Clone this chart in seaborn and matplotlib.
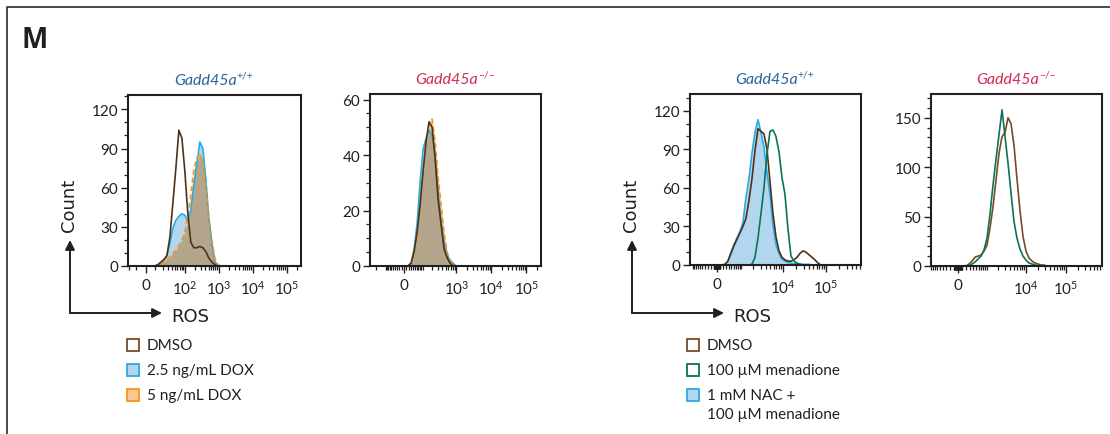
import matplotlib
matplotlib.use('Agg')
import matplotlib.pyplot as plt
import seaborn as sns
import numpy as np
from matplotlib.patches import Rectangle, FancyArrowPatch
from matplotlib.lines import Line2D
from matplotlib.ticker import FixedLocator, FixedFormatter, MultipleLocator
from matplotlib.transforms import offset_copy

W, H = 1110, 435

# ---- DOX, Gadd45a+/+ (ROS bin centres, counts per sample)
dox_wt_bins = [6.0, 9.3, 13, 17.3, 22.3, 28.2, 35.1, 43.6, 54, 66.5, 81.8, 100, 123,
               151, 185, 227, 278, 341, 418, 513, 628, 769, 943, 1155, 1415, 1734]
dox_wt_dmso = [0, 0, 1, 3, 5, 8, 22, 48, 75, 104, 98, 73, 40, 18, 14, 14, 15, 14, 11, 6,
               3, 1, 0, 0, 0, 0]
dox_wt_25 = [0, 0, 1, 2, 4, 8, 17, 29, 35, 38, 40, 39, 34, 42, 62, 78, 95, 90, 66, 36,
             17, 3, 0, 0, 0, 0]
dox_wt_5 = [0, 0, 1, 2, 3, 5, 7, 10, 12, 16, 20, 26, 38, 55, 74, 83, 86, 80, 60, 37,
            20, 6, 1, 0, 0, 0]

# ---- DOX, Gadd45a-/-
dox_ko_bins = [17.3, 31, 45.9, 62.6, 82, 104, 131, 162, 200, 246, 301, 368, 449, 549,
               669, 815, 993, 1210, 1475]
dox_ko_dmso = [0, 1, 5, 12, 22, 34, 45, 52, 50, 39, 24, 15, 6, 3, 1, 0, 0, 0, 0]
dox_ko_25 = [0, 1, 6, 15, 30, 42, 46, 49, 47, 40, 27, 16, 9, 4, 2, 1, 0, 0, 0]
dox_ko_5 = [0, 1, 4, 11, 22, 33, 44, 51, 53, 45, 32, 22, 12, 5, 2, 1, 0, 0, 0]

# ---- menadione, Gadd45a+/+
men_wt_bins = [158, 258, 364, 480, 608, 752, 915, 1099, 1310, 1565, 1855, 2195, 2590,
               3050, 3585, 4220, 4960, 5835, 6845, 8040, 9445, 11090, 13020, 15290,
               17960, 21090, 24760, 29070, 34120, 40050, 47020, 55210, 64820, 76100]
men_wt_dmso = [0, 0.5, 3, 9, 15, 20, 25, 30, 36, 50, 67, 89, 106, 104, 102, 90, 65, 40,
               22, 11, 6, 4, 3, 3, 4, 6, 9, 11, 10, 8, 6, 4, 1.5, 0]
men_wt_men = [0, 0, 0, 0, 0, 0, 0, 0, 0, 0, 0.5, 6, 21, 40, 60, 86, 104, 105, 100, 88,
              68, 55, 28, 7, 3, 1.5, 0.5, 0, 0, 0, 0, 0, 0, 0]
men_wt_nac = [0, 0.5, 3, 10, 16, 21, 26, 33, 52, 67, 87, 103, 113, 103, 92, 72, 55, 31,
              16, 9, 4.5, 3, 2, 1.5, 1, 1, 1, 0.5, 0.5, 0.5, 0, 0, 0, 0]

# ---- menadione, Gadd45a-/-
men_ko_bins = [117, 191, 271, 359, 458, 570, 699, 846, 1020, 1225, 1472, 1757, 2097,
               2502, 2977, 3541, 4207, 5000, 5947, 7066, 8400, 9985, 11870, 14115,
               16760, 19890, 23620, 28110, 33400]
men_ko_dmso = [0, 0, 2, 5, 9, 10, 11, 15, 21, 38, 60, 87, 114, 131, 135, 150, 144, 122,
               88, 56, 30, 15, 8, 5, 3, 2, 1, 1, 0]
men_ko_men = [0, 0, 0.5, 2, 4, 7, 10, 16, 28, 52, 82, 108, 133, 158, 131, 104, 74, 45,
              28, 17, 10, 6, 3, 2, 1, 0.5, 0, 0, 0]

dox_labels = ['DMSO', '2.5 ng/mL DOX', '5 ng/mL DOX']
men_labels = ['DMSO', '100 \u00b5M menadione', '1 mM NAC +\n100 \u00b5M menadione']

BROWN = '#4f3118'
BROWN2 = '#7a4a24'
BLUE = '#29abe2'
BLUE_FILL = '#b2d6f0'
ORANGE = '#f7941d'
ORANGE_FILL = '#f9c894'
TAN = '#b3a68c'
GREEN = '#0b7356'
INK = '#231f20'
WT_COL = '#2b6399'
KO_COL = '#d42a4f'

sns.set_style('ticks')
plt.rcParams['font.family'] = ['Lato', 'DejaVu Sans']
plt.rcParams['mathtext.fontset'] = 'custom'
plt.rcParams['mathtext.rm'] = 'Lato'
plt.rcParams['mathtext.it'] = 'Lato:italic'
plt.rcParams['mathtext.bf'] = 'Lato:bold'

fig = plt.figure(figsize=(W / 100, H / 100), dpi=100)


def px_rect(l, t, r, b):
    return [l / W, 1 - b / H, (r - l) / W, (b - t) / H]


def genotype_title(ax, sup, col):
    # italic gene name plus an upright superscript, centred over the panel
    xc = 0.5 - 9 / (ax.get_position().width * W)
    t = ax.text(xc, 1.0, 'Gadd45a', style='italic', fontsize=11.5, color=col,
                transform=offset_copy(ax.transAxes, fig=fig, x=0, y=8, units='dots'),
                ha='center', va='bottom')
    ax.annotate(sup, xy=(1, 1), xycoords=t, xytext=(0, 2), textcoords='offset points',
                fontsize=7.5, color=col, ha='left', va='top')


def setup_axis(ax, lw_, xlim, xmajor, xlabels, ymax, ymajor, yminor):
    ax.set_xscale('asinh', linear_width=lw_)
    ax.set_xlim(*xlim)
    ax.set_ylim(0, ymax)
    ax.xaxis.set_major_locator(FixedLocator(xmajor))
    ax.xaxis.set_major_formatter(FixedFormatter(xlabels))
    minor = []
    for k in range(1, 6):
        for m in range(1, 10):
            for s in (1, -1):
                v = s * m * 10 ** k
                if xlim[0] < v < xlim[1]:
                    minor.append(v)
    ax.xaxis.set_minor_locator(FixedLocator(minor))
    ax.set_yticks(ymajor)
    ax.yaxis.set_minor_locator(MultipleLocator(yminor))
    for sp in ax.spines.values():
        sp.set_visible(True)
        sp.set_linewidth(1.5)
        sp.set_color(INK)
    ax.tick_params(which='major', length=5, width=1, color=INK, labelsize=11,
                   labelcolor=INK, pad=2)
    ax.tick_params(axis='x', which='major', pad=4)
    ax.tick_params(which='minor', length=3, width=0.9, color=INK)
    ax.set_xlabel('')
    ax.set_ylabel('')


def line(ax, x, y, color, ls='-'):
    sns.lineplot(x=x, y=y, ax=ax, color=color, linewidth=1.2, estimator=None,
                 sort=False, legend=False, linestyle=ls)


xl_dox1 = ['0', r'$10^{2}$', r'$10^{3}$', r'$10^{4}$', r'$10^{5}$']
xl_dox2 = ['0', r'$10^{3}$', r'$10^{4}$', r'$10^{5}$']
xl_men = ['0', r'$10^{4}$', r'$10^{5}$']

# panel 1
ax1 = fig.add_axes(px_rect(128, 96, 301, 267))
b = np.array(dox_wt_bins)
c25, c5 = np.array(dox_wt_25), np.array(dox_wt_5)
ax1.fill_between(b, 0, c25, color=BLUE_FILL, lw=0)
ax1.fill_between(b, 0, c5, color=ORANGE_FILL, lw=0)
ax1.fill_between(b, 0, np.minimum(c25, c5), color=TAN, lw=0)
line(ax1, b, c25, BLUE)
line(ax1, b, c5, ORANGE, (0, (3, 2)))
line(ax1, b, dox_wt_dmso, BROWN)
setup_axis(ax1, 14.4, (-22, 262144), [0, 1e2, 1e3, 1e4, 1e5], xl_dox1,
           131, [0, 30, 60, 90, 120], 10)
genotype_title(ax1, '+/+', WT_COL)

# panel 2
ax2 = fig.add_axes(px_rect(370, 95, 541, 267))
b = np.array(dox_ko_bins)
c25, c5 = np.array(dox_ko_25), np.array(dox_ko_5)
ax2.fill_between(b, 0, c25, color=BLUE_FILL, lw=0)
ax2.fill_between(b, 0, c5, color=ORANGE_FILL, lw=0)
ax2.fill_between(b, 0, np.minimum(c25, c5), color=TAN, lw=0)
line(ax2, b, c25, BLUE)
line(ax2, b, c5, ORANGE, (0, (3, 2)))
line(ax2, b, dox_ko_dmso, BROWN)
setup_axis(ax2, 65, (-300, 262144), [0, 1e3, 1e4, 1e5], xl_dox2,
           62, [0, 20, 40, 60], 5)
genotype_title(ax2, '\u2013/\u2013', KO_COL)

# panel 3
ax3 = fig.add_axes(px_rect(690, 95, 861, 266))
b = np.array(men_wt_bins)
ax3.fill_between(b, 0, men_wt_nac, color=BLUE_FILL, lw=0)
line(ax3, b, men_wt_nac, BLUE)
line(ax3, b, men_wt_dmso, BROWN)
line(ax3, b, men_wt_men, GREEN)
setup_axis(ax3, 585, (-1166, 646000), [0, 1e4, 1e5], xl_men,
           133, [0, 30, 60, 90, 120], 10)
genotype_title(ax3, '+/+', WT_COL)

# panel 4
ax4 = fig.add_axes(px_rect(931, 95, 1102, 267))
b = np.array(men_ko_bins)
line(ax4, b, men_ko_dmso, BROWN2)
line(ax4, b, men_ko_men, GREEN)
setup_axis(ax4, 401, (-906, 789000), [0, 1e4, 1e5], xl_men,
           174, [0, 50, 100, 150], 10)
genotype_title(ax4, '\u2013/\u2013', KO_COL)


def fpt(x, y):
    return (x / W, 1 - y / H)


# outer frame (top and left edges)
fig.add_artist(Line2D([7 / W, 7 / W, 1.0], [0.0, 1 - 8 / H, 1 - 8 / H],
                      transform=fig.transFigure, color='#3a3a3a', lw=1.3))
fig.text(*fpt(22, 40), 'M', fontsize=20, fontweight='bold', color=INK,
         ha='left', va='center', family='Open Sans')

cond = dict(family=['Liberation Sans Narrow', 'DejaVu Sans'], fontsize=13, color=INK)
for x0 in (70, 632):
    for end in ((x0, 241), (x0 + 92, 314)):
        fig.add_artist(FancyArrowPatch(fpt(x0, 314), fpt(*end), transform=fig.transFigure,
                                       arrowstyle='-|>', mutation_scale=14, lw=1.4,
                                       color=INK, shrinkA=0, shrinkB=0))
    fig.text(*fpt(x0 - 1, 205), 'Count', rotation=90, ha='center', va='center', **cond)
    fig.text(*fpt(x0 + 101, 317), 'ROS', ha='left', va='center', **cond)


def legend(x0, y0, labels, faces, edges):
    y = y0
    for lab, fc, ec in zip(labels, faces, edges):
        fig.add_artist(Rectangle(fpt(x0, y + 6), 12 / W, 12 / H, transform=fig.transFigure,
                                 facecolor=fc, edgecolor=ec, lw=1.3))
        for i, part in enumerate(lab.split('\n')):
            fig.text(*fpt(x0 + 20, y + i * 19), part, fontsize=11, color=INK,
                     ha='left', va='center')
        y += 25


legend(127, 346, dox_labels, ['white', BLUE_FILL, ORANGE_FILL], [BROWN2, BLUE, ORANGE])
legend(687, 346, men_labels, ['white', 'white', BLUE_FILL], [BROWN2, GREEN, BLUE])

fig.savefig('out.png', dpi=100)
